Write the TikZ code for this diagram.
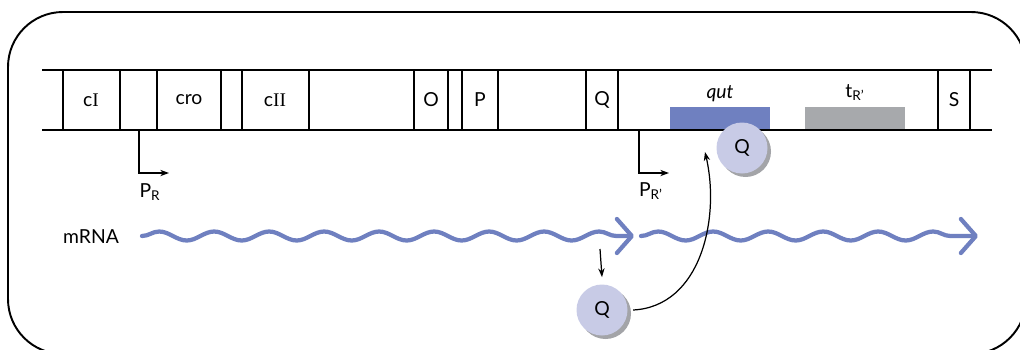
\documentclass[tikz,border=0pt]{standalone}
\usepackage{fontspec}
\setmainfont{Lato}
\newfontfamily\numfont{Liberation Serif}
\usepackage{tikz}
\usetikzlibrary{positioning}
\usetikzlibrary{arrows.meta,decorations.pathmorphing,shadows}

\definecolor{rnablue}{HTML}{6F80C0}
\definecolor{qutblue}{HTML}{6F80C0}
\definecolor{termgray}{HTML}{A7A9AC}
\definecolor{qfill}{HTML}{C8CBE6}
\definecolor{qshadow}{HTML}{A3A4A8}

\begin{document}
\begin{tikzpicture}[x=0.02cm,y=-0.02cm,font=\fontsize{11}{13}\selectfont,
    dna/.style={line width=1.1pt},
    divider/.style={line width=0.8pt},
    bar/.style={minimum width=2cm,minimum height=0.44cm,inner sep=0pt},
    protein/.style={circle,fill=qfill,minimum size=1.02cm,inner sep=0pt,
      drop shadow={shadow xshift=0.07cm,shadow yshift=-0.07cm,fill=qshadow,opacity=1}},
    mrna/.style={draw=rnablue,line width=0.085cm,line cap=round,decorate,
      decoration={snake,segment length=1.1cm,amplitude=0.09cm,post length=0.3cm},
      -{Straight Barb[length=0.3cm,width=0.68cm,round]}},
    pointer/.style={-{Stealth[length=5pt,width=3.6pt]},line width=0.7pt}]
    \clip (0,0) rectangle (1020,349);

    % frame
    \draw[line width=1.1pt,rounded corners=1.1cm] (8,12) rectangle (1026,354);

    % qut and terminator
    \node[bar,fill=qutblue] (qut) at (720,118) {};
    \node[bar,fill=termgray] (tR) at (855,118) {};
    \node[anchor=base] (qutlabel) at (720,98) {\itshape qut};
    \node[anchor=base] (tRlabel) at (855,97) {t\textsubscript{R'}};

    % DNA
    \draw[dna] (42,70) -- (992,70);
    \draw[dna] (42,130) -- (992,130);
    \foreach \x in {63,120,157,221,242,309,414,448,462,498,586,618,938,970}
        \draw[divider] (\x,70) -- (\x,130);

    % genes
    \node (cI) at (91,100) {c{\numfont I}};
    \node (cro) at (189,100) {cro};
    \node (cII) at (275,100) {c{\numfont II}};
    \node (O) at (431,100) {O};
    \node (P) at (480,100) {P};
    \node (Q) at (602,100) {Q};
    \node (S) at (954,100) {S};

    % promoters
    \coordinate (pR) at (139,130);
    \coordinate (pRtip) at (169,173);
    \draw[pointer] (pR) |- (pRtip);
    \node (pRlabel) at (150,192) {P\textsubscript{R}};
    \coordinate (pRp) at (639,130);
    \coordinate (pRptip) at (669,173);
    \draw[pointer] (pRp) |- (pRptip);
    \node (pRplabel) at (651,191) {P\textsubscript{R'}};

    % mRNA
    \node (mrnalabel) at (91,237) {mRNA};
    \coordinate (m1) at (142,236);
    \coordinate (m2) at (634,236);
    \coordinate (m3) at (641,236);
    \coordinate (m4) at (978,236);
    \draw[mrna] (m1) -- (m2);
    \draw[mrna] (m3) -- (m4);

    % Q protein
    \node[protein] (qfree) at (602,310) {Q};
    \node[protein] (qbound) at (742,148) {Q};
    \coordinate (qsrc) at (600,249);
    \draw[pointer] (qsrc) -- ([yshift=4pt]qfree.north);
    \coordinate (qdst) at (705,152);
    \draw[pointer] ([xshift=3pt]qfree.east) to[out=3,in=-77] (qdst);
\end{tikzpicture}
\end{document}
